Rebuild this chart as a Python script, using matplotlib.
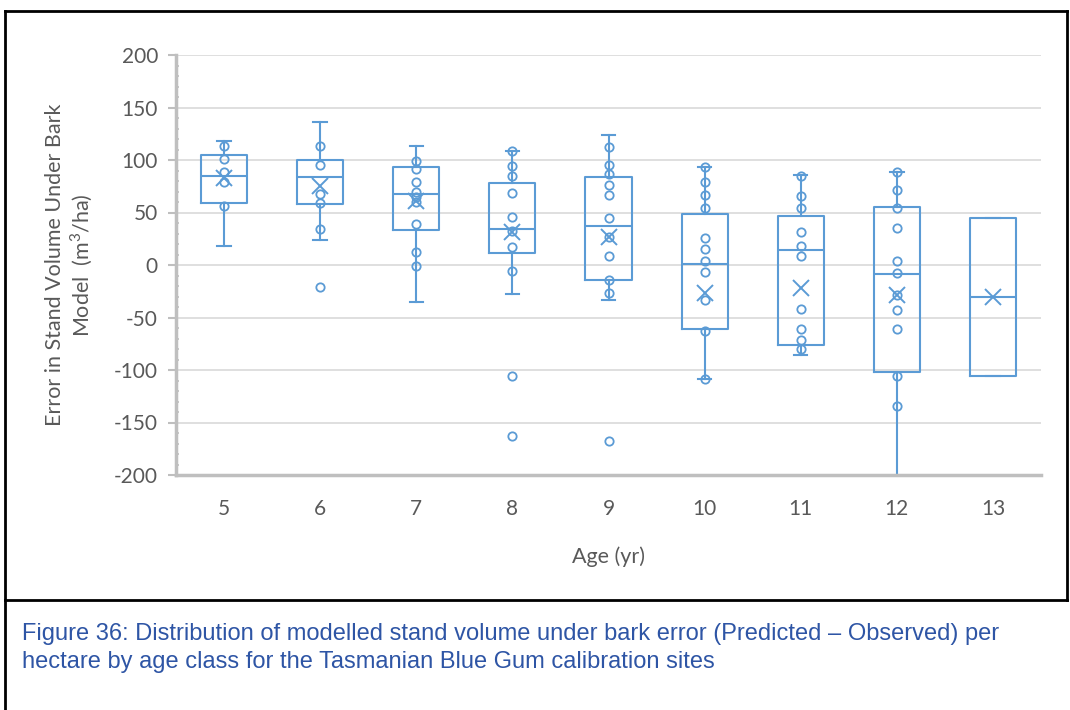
import matplotlib
matplotlib.use("Agg")
import matplotlib.pyplot as plt
from matplotlib.lines import Line2D
from matplotlib.ticker import MultipleLocator

ages = ["5", "6", "7", "8", "9", "10", "11", "12", "13"]
whislo = [18, 24, -35, -28, -33, -109, -86, -210, -106]
q1 = [59, 58, 33, 11, -14, -61, -76, -102, -106]
med = [85, 84, 68, 34, 37, 1, 14, -9, -30]
q3 = [105, 100, 93, 78, 84, 49, 47, 55, 45]
whishi = [118, 136, 113, 109, 124, 93, 86, 89, 45]
means = [83, 75, 61, 31, 27, -27, -22, -29, -30]
points = [
    [113, 101, 89, 79, 56],
    [113, 95, 68, 59, 34, -21],
    [99, 91, 79, 70, 65, 60, 39, 12, -1],
    [109, 94, 85, 69, 46, 32, 17, -6, -106, -163],
    [112, 95, 87, 76, 67, 45, 27, 9, -14, -27, -168],
    [93, 79, 67, 54, 26, 15, 4, -7, -33, -63, -109],
    [85, 66, 54, 31, 18, 9, -42, -61, -71, -80],
    [89, 71, 54, 35, 4, -8, -29, -43, -61, -106, -134],
    [],
]
ylabel = "Error in Stand Volume Under Bark\nModel  (m$^3$/ha)"
xlabel = "Age (yr)"
caption = ("Figure 36: Distribution of modelled stand volume under bark error (Predicted \u2013 Observed) per\n"
           "hectare by age class for the Tasmanian Blue Gum calibration sites")

BLUE = "#5B9BD5"
GRID = "#D9D9D9"
AXC = "#BFBFBF"
TXT = "#595959"
plt.rcParams["font.family"] = ["Lato", "DejaVu Sans"]
plt.rcParams["axes.unicode_minus"] = False
plt.rcParams["mathtext.fontset"] = "custom"
plt.rcParams["mathtext.rm"] = "Lato"

fig = plt.figure(figsize=(10.7, 7.1), dpi=100)
ax = fig.add_axes([176 / 1070, 1 - 475 / 710, (1041 - 176) / 1070, 420 / 710])

stats = []
for i in range(len(ages)):
    stats.append(dict(whislo=whislo[i], q1=q1[i], med=med[i], q3=q3[i],
                      whishi=whishi[i], mean=means[i], fliers=[], label=ages[i]))
pos = list(range(1, len(ages) + 1))
lp = dict(color=BLUE, linewidth=1.5)
ax.bxp(stats, positions=pos, widths=0.48, capwidths=0.14, showmeans=False,
       showfliers=False, boxprops=lp, whiskerprops=lp, capprops=lp,
       medianprops=lp, manage_ticks=False)

for p, vals in zip(pos, points):
    if vals:
        ax.plot([p] * len(vals), vals, "o", mfc="none", mec=BLUE, mew=1.3, ms=6, zorder=4)
ax.plot(pos, means, "x", color=BLUE, mew=1.4, ms=12, zorder=5, linestyle="none")

ax.set_xlim(0.5, len(ages) + 0.5)
ax.set_ylim(-200, 200)
ax.set_xticks(pos)
ax.set_xticklabels(ages)
ax.yaxis.set_major_locator(MultipleLocator(50))
ax.yaxis.set_minor_locator(MultipleLocator(10))
ax.grid(axis="y", color=GRID, linewidth=1.2)
ax.set_axisbelow(True)
for s in ["top", "right"]:
    ax.spines[s].set_visible(False)
for s in ["left", "bottom"]:
    ax.spines[s].set_color(AXC)
    ax.spines[s].set_linewidth(2.5)
ax.tick_params(axis="x", length=0, pad=17, labelsize=15, labelcolor=TXT)
ax.tick_params(axis="y", which="major", length=6, width=1.5, color=AXC, pad=7,
               labelsize=15, labelcolor=TXT)
ax.tick_params(axis="y", which="minor", length=2, width=1.2, color=AXC, direction="in")
ax.set_xlabel(xlabel, fontsize=15.5, color=TXT, labelpad=20)

fig.text(70 / 1070, 1 - 265 / 710, ylabel, rotation=90, ha="center", va="center",
         multialignment="center", fontsize=15.5, color=TXT, linespacing=1.15)

# document frame
frame = dict(color="black", linewidth=2, transform=fig.transFigure, clip_on=False)
fig.add_artist(Line2D([5 / 1070, 1067 / 1070], [1 - 11 / 710, 1 - 11 / 710], **frame))
fig.add_artist(Line2D([5 / 1070, 1067 / 1070], [1 - 600 / 710, 1 - 600 / 710], **frame))
fig.add_artist(Line2D([5 / 1070, 5 / 1070], [0, 1 - 11 / 710], **frame))
fig.add_artist(Line2D([1067 / 1070, 1067 / 1070], [1 - 600 / 710, 1 - 11 / 710], **frame))

fig.text(22 / 1070, 1 - 648 / 710, caption, fontsize=17, color="#2E55A5",
         family=["Liberation Sans", "DejaVu Sans"], va="center", ha="left", linespacing=1.3)

fig.savefig("out.png", dpi=100, facecolor="white")
